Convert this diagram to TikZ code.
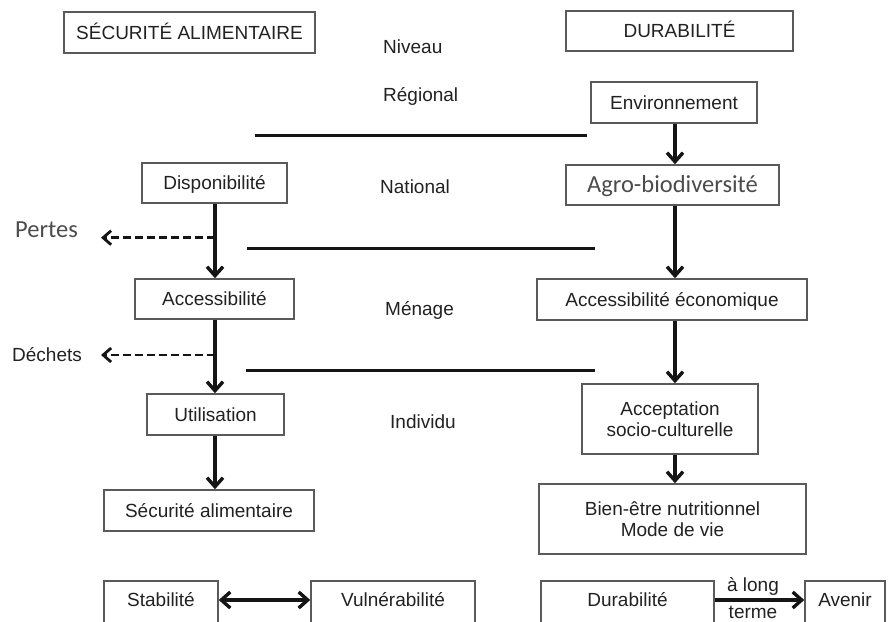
\documentclass[tikz,border=0pt]{standalone}
\usepackage{fontspec}
\newfontfamily\arialf{Liberation Sans}
\newfontfamily\calf{Carlito}
\usetikzlibrary{arrows.meta}
\definecolor{tcol}{HTML}{222222}
\definecolor{bcol}{HTML}{5A5A5A}
\definecolor{acol}{HTML}{151515}
\definecolor{gcol}{HTML}{4C4C4C}
\newcommand\labf{\arialf\fontsize{19}{20.5}\selectfont}
\newcommand\calff{\calf\fontsize{24.5}{28}\selectfont}
\tikzset{
  box/.style={draw=bcol, line width=1.5pt, text=tcol, font=\labf, inner sep=0pt, text height=13.6pt, text depth=0pt},
  lowbox/.style={box, text depth=4pt},
  mbox/.style={draw=bcol, line width=1.5pt, text=tcol, font=\labf, inner sep=0pt, align=center},
  lvl/.style={text=tcol, font=\labf, inner sep=0pt, text height=13.6pt, text depth=0pt},
  arr/.style={draw=acol, line width=3.4pt, -{Straight Barb[length=9pt,width=16pt]}},
  darr/.style={draw=acol, line width=2.8pt, dash pattern=on 8pt off 4pt, -{Straight Barb[length=8pt,width=14pt]}},
  biarr/.style={draw=acol, line width=3.4pt, {Straight Barb[length=9pt,width=16pt]}-{Straight Barb[length=9pt,width=16pt]}},
  sepline/.style={draw=acol, line width=3pt}
}
\begin{document}
\begin{tikzpicture}[x=1pt, y=-1pt]
\useasboundingbox (0,0) rectangle (891,621);
\clip (0,0) rectangle (891,621);
\fill[white] (0,0) rectangle (891,621);

% headers
\node[box, minimum width=251pt, minimum height=41pt] (secA) at (189.5,32.5) {SÉCURITÉ ALIMENTAIRE};
\node[box, minimum width=227pt, minimum height=40pt] (dur) at (679.5,31) {DURABILITÉ};

% level labels
\node[lvl, anchor=west] (niv) at (383,46.7) {Niveau};
\node[lvl, anchor=west] (reg) at (383,95) {Régional};
\node[lvl, anchor=west] (nat) at (380,186.7) {National};
\node[lvl, anchor=west] (men) at (385,309) {Ménage};
\node[lvl, anchor=west] (ind) at (390,421.5) {Individu};

% left column
\node[box, minimum width=145pt, minimum height=40pt] (disp) at (214.5,183) {Disponibilité};
\node[box, minimum width=159pt, minimum height=40pt] (acc) at (214.5,299) {Accessibilité};
\node[box, minimum width=137pt, minimum height=41pt] (util) at (215.5,414.5) {Utilisation};
\node[box, minimum width=210pt, minimum height=41pt] (secal) at (209,510.5) {Sécurité alimentaire};

% right column
\node[box, minimum width=166pt, minimum height=41pt] (env) at (674,102.5) {Environnement};
\node[box, font=\calff, text=gcol, text height=15.8pt, minimum width=213pt, minimum height=40pt] (agro) at (672.5,185) {Agro-biodiversité};
\node[box, minimum width=270pt, minimum height=41pt] (acceco) at (672,299.5) {Accessibilité économique};
\node[mbox, minimum width=176pt, minimum height=70pt] (accept) at (670,419) {Acceptation\\socio-culturelle};
\node[mbox, minimum width=267pt, minimum height=70pt] (bien) at (672.5,519) {Bien-être nutritionnel\\Mode de vie};

% bottom row
\node[lowbox, minimum width=114pt, minimum height=42pt] (stab) at (161,602) {Stabilité};
\node[lowbox, minimum width=164pt, minimum height=42pt] (vul) at (393,602) {Vulnérabilité};
\node[lowbox, minimum width=173pt, minimum height=42pt] (durb) at (627.5,602) {Durabilité};
\node[lowbox, minimum width=80pt, minimum height=42pt] (aven) at (845,602) {Avenir};
\node[lvl] (along) at (753,585) {à long};
\node[lvl] (terme) at (753,611.5) {terme};

% side labels
\node[anchor=west, inner sep=0pt, font=\calff, text=gcol, text height=15.8pt, text depth=0pt] (pertes) at (15,230) {Pertes};
\node[lvl, anchor=west] (dechets) at (12,355) {Déchets};

% separators
\draw[sepline] (255,135) -- (587,135);
\draw[sepline] (247,248) -- (595,248);
\draw[sepline] (246,370) -- (595,370);

% column axes
\coordinate (cl) at (215,0);
\coordinate (cr) at (675,0);

% left arrows
\draw[arr] (disp.south -| cl) -- (acc.north -| cl);
\draw[arr] (acc.south -| cl) -- (util.north -| cl);
\draw[arr] (util.south -| cl) -- (secal.north -| cl);

% right arrows
\draw[arr] (env.south -| cr) -- (agro.north -| cr);
\draw[arr] (agro.south -| cr) -- (acceco.north -| cr);
\draw[arr] (acceco.south -| cr) -- (accept.north -| cr);
\draw[arr] (accept.south -| cr) -- (bien.north -| cr);

% losses
\coordinate (pA) at (215,237.7);
\coordinate (pB) at (101,237.7);
\coordinate (dA) at (215,355);
\coordinate (dB) at (101,355);
\draw[darr] (pA) -- (pB);
\draw[darr] (dA) -- (dB);

% bottom arrows
\draw[biarr] ([yshift=2pt]stab.east) -- ([yshift=2pt]vul.west);
\draw[arr] ([yshift=2pt]durb.east) -- ([yshift=2pt]aven.west);
\end{tikzpicture}
\end{document}
